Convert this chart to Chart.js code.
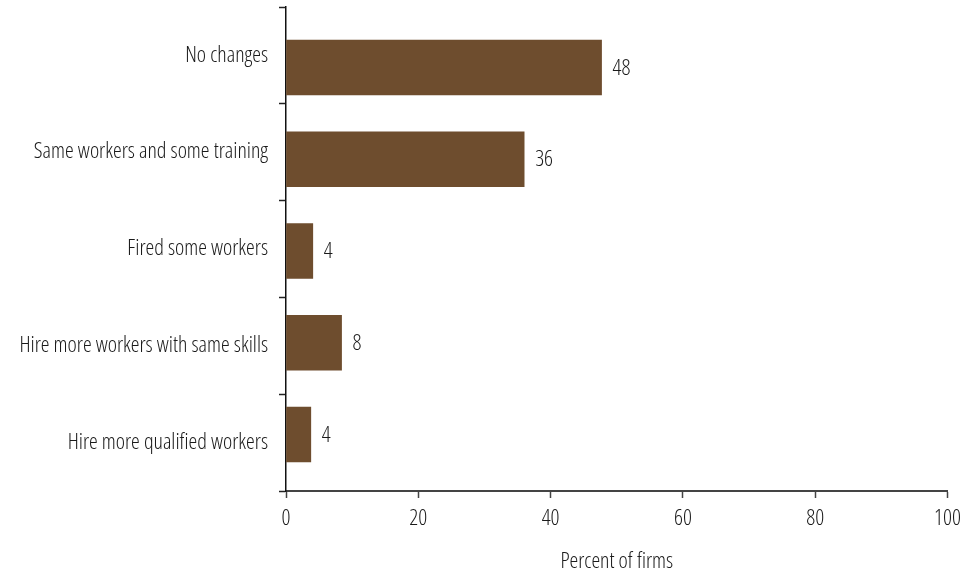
<!DOCTYPE html>
<html>
<head>
<meta charset="utf-8">
<script src="https://cdn.jsdelivr.net/npm/chart.js@4/dist/chart.umd.min.js"></script>
<style>
  body { margin: 0; background: #fff; }
</style>
</head>
<body>
<canvas id="chart" width="969" height="571"></canvas>
<script>
// Data
const categories = [
    'No changes',
    'Same workers and some training',
    'Fired some workers',
    'Hire more workers with same skills',
    'Hire more qualified workers'
];
const percentFirms = [47.7, 36.0, 4.05, 8.4, 3.75];
const valueLabels = ['48', '36', '4', '8', '4'];
const xTicks = [0, 20, 40, 60, 80, 100];

const barColor = '#6e4d2e';
const fontFamily = '"Open Sans", "DejaVu Sans", sans-serif';
const fontSize = 22;
const fontWeight = '350 condensed';

// light condensed Open Sans comes close to the narrow face of the original
Chart.defaults.font.family = fontFamily;
Chart.defaults.font.size = fontSize;
Chart.defaults.font.weight = fontWeight;
Chart.defaults.color = '#1a1a1a';

// Draw the rounded value next to the end of each bar
const valueLabelPlugin = {
    id: 'valueLabels',
    afterDatasetsDraw(chart) {
        const ctx = chart.ctx;
        const meta = chart.getDatasetMeta(0);
        ctx.save();
        ctx.font = fontWeight + ' ' + fontSize + 'px ' + fontFamily;
        ctx.fillStyle = '#1a1a1a';
        ctx.textAlign = 'left';
        ctx.textBaseline = 'middle';
        meta.data.forEach((bar, i) => {
            ctx.fillText(valueLabels[i], bar.x + 11, bar.y + 1);
        });
        ctx.restore();
    }
};

new Chart(document.getElementById('chart').getContext('2d'), {
    type: 'bar',
    data: {
        labels: categories,
        datasets: [{
            data: percentFirms.map((v, i) => ({ x: v, y: i })),
            backgroundColor: barColor,
            borderWidth: 0,
            barThickness: 55,
            yAxisID: 'yBar'
        }]
    },
    plugins: [valueLabelPlugin],
    options: {
        indexAxis: 'y',
        responsive: false,
        animation: false,
        devicePixelRatio: 1,
        layout: {
            padding: { top: 7, right: 21, left: 0, bottom: 0 }
        },
        plugins: {
            legend: { display: false },
            tooltip: { enabled: false }
        },
        scales: {
            x: {
                type: 'linear',
                min: 0,
                max: 100,
                afterBuildTicks(scale) {
                    scale.ticks = xTicks.map(v => ({ value: v }));
                },
                afterFit(scale) {
                    scale.height = 80;
                },
                grid: {
                    drawOnChartArea: false,
                    drawTicks: true,
                    tickLength: 7,
                    tickWidth: 1.5,
                    tickColor: '#444'
                },
                border: { display: true, color: '#444', width: 2 },
                ticks: { padding: 8 },
                title: {
                    display: true,
                    text: 'Percent of firms',
                    padding: { top: 10, bottom: -4 }
                }
            },
            y: {
                type: 'category',
                position: 'left',
                offset: true,
                afterFit(scale) {
                    scale.width = 286;
                    // keep the axis running to the top padding only
                    scale.paddingTop = 0;
                    scale.paddingBottom = 0;
                },
                grid: {
                    offset: true,
                    drawOnChartArea: false,
                    drawTicks: true,
                    tickLength: 7,
                    tickWidth: 1.5,
                    tickColor: '#222'
                },
                border: { display: true, color: '#111', width: 1.5 },
                ticks: { padding: 11 }
            },
            // bars sit on their own evenly spaced axis, as in the original
            yBar: {
                type: 'linear',
                display: false,
                offset: false,
                grid: { offset: false },
                reverse: true,
                min: -0.659,
                max: 4.616
            }
        }
    }
});
</script>
</body>
</html>
